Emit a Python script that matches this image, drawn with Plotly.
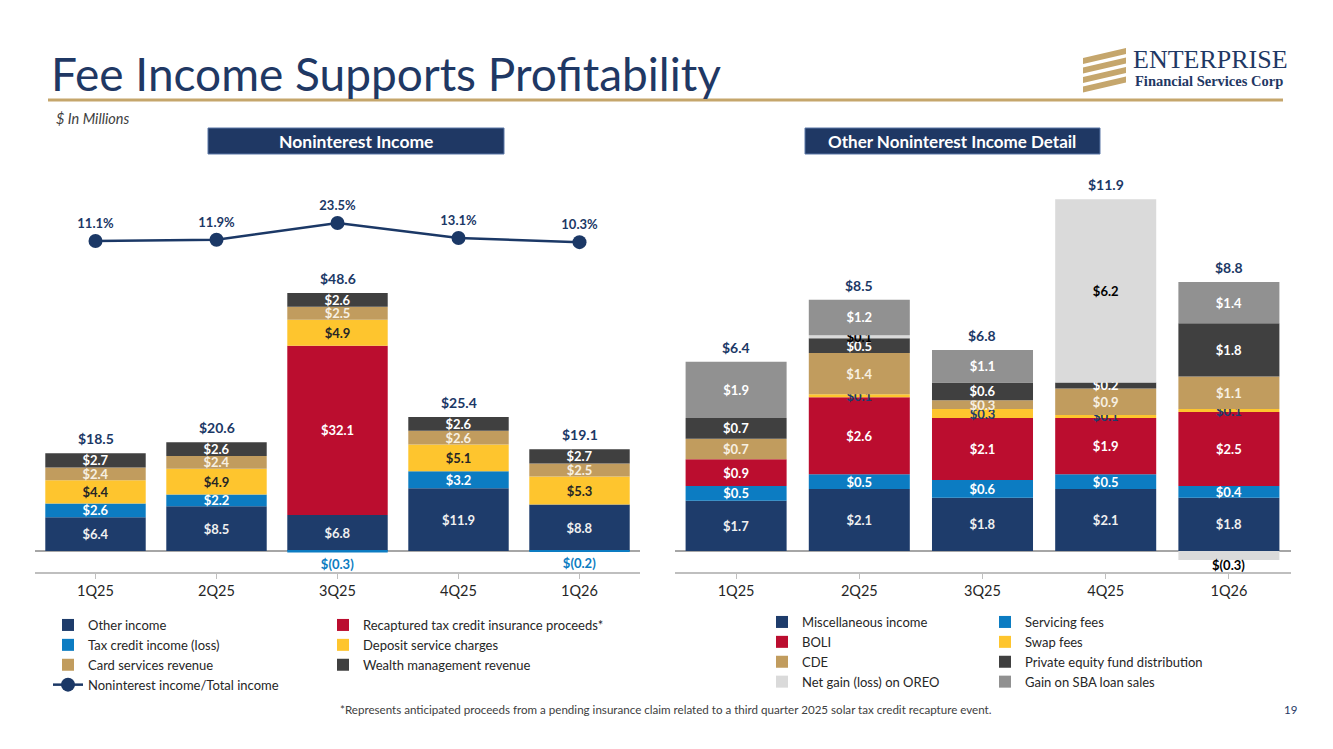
import plotly.graph_objects as go

W, H = 1333, 749
def X(p): return p / W
def Y(p): return 1 - p / H

quarters = ["1Q25", "2Q25", "3Q25", "4Q25", "1Q26"]

# ---- Left chart: Noninterest Income ----
other_income = [6.4, 8.5, 6.8, 11.9, 8.8]
tax_credit = [2.6, 2.2, -0.3, 3.2, -0.2]
recaptured = [0, 0, 32.1, 0, 0]
deposit = [4.4, 4.9, 4.9, 5.1, 5.3]
card = [2.4, 2.4, 2.5, 2.6, 2.5]
wealth = [2.7, 2.6, 2.6, 2.6, 2.7]
left_totals = [18.5, 20.6, 48.6, 25.4, 19.1]
nii_ratio = [11.1, 11.9, 23.5, 13.1, 10.3]

# ---- Right chart: Other Noninterest Income Detail ----
misc = [1.7, 2.1, 1.8, 2.1, 1.8]
servicing = [0.5, 0.5, 0.6, 0.5, 0.4]
boli = [0.9, 2.6, 2.1, 1.9, 2.5]
swap = [0, 0.1, 0.3, 0.1, 0.1]
cde = [0.7, 1.4, 0.3, 0.9, 1.1]
private_eq = [0.7, 0.5, 0.6, 0.2, 1.8]
oreo = [0, 0.1, 0, 6.2, -0.3]
sba = [1.9, 1.2, 1.1, 0, 1.4]
right_totals = [6.4, 8.5, 6.8, 11.9, 8.8]

NAVY = "#1e3c6b"
BLUE = "#0c7cc2"
RED = "#bb0d2f"
YELLOW = "#fec52e"
TAN = "#c19c5e"
DARK = "#404040"
LIGHT = "#dadada"
GRAY = "#919191"
FONT = "Lato"

left_series = [
    ("Other income", other_income, NAVY, "#f0f0f0", "legend"),
    ("Tax credit income (loss)", tax_credit, BLUE, "#ffffff", "legend"),
    ("Recaptured tax credit insurance proceeds*", recaptured, RED, "#ffffff", "legend2"),
    ("Deposit service charges", deposit, YELLOW, "#262626", "legend2"),
    ("Card services revenue", card, TAN, "#f7f0e2", "legend"),
    ("Wealth management revenue", wealth, DARK, "#ffffff", "legend2"),
]
right_series = [
    ("Miscellaneous income", misc, NAVY, "#f0f0f0", "legend3"),
    ("Servicing fees", servicing, BLUE, "#ffffff", "legend4"),
    ("BOLI", boli, RED, "#ffffff", "legend3"),
    ("Swap fees", swap, YELLOW, "#1e3c6b", "legend4"),
    ("CDE", cde, TAN, "#f7f0e2", "legend3"),
    ("Private equity fund distribution", private_eq, DARK, "#ffffff", "legend4"),
    ("Net gain (loss) on OREO", oreo, LIGHT, "#000000", "legend3"),
    ("Gain on SBA loan sales", sba, GRAY, "#ffffff", "legend4"),
]


def fmt(v):
    if v == 0:
        return ""
    return f"${v:.1f}" if v > 0 else f"$({-v:.1f})"


fig = go.Figure()
annotations = []


def add_bars(series, xa, ya, width, neg_color, neg_outside):
    for name, vals, color, tcolor, leg in series:
        texts = [fmt(v) if (v > 0 or neg_outside) else "" for v in vals]
        fig.add_trace(go.Bar(
            x=quarters, y=vals, name=name, xaxis=xa, yaxis=ya, width=width,
            marker=dict(color=color, line=dict(width=0)),
            text=texts,
            textposition=["outside" if v < 0 else "inside" for v in vals],
            textangle=0, insidetextanchor="middle", constraintext="none",
            insidetextfont=dict(family=FONT, size=13, color=tcolor, weight="bold"),
            outsidetextfont=dict(family=FONT, size=13, color=neg_color, weight="bold"),
            cliponaxis=False, legend=leg, hoverinfo="skip",
        ))
        if not neg_outside:
            for q, v in zip(quarters, vals):
                if v < 0:
                    annotations.append(dict(
                        x=q, y=v, xref=xa, yref=ya, text=fmt(v), showarrow=False,
                        yanchor="top", yshift=5,
                        font=dict(family=FONT, size=13, color=neg_color, weight="bold")))


add_bars(left_series, "x", "y", 0.83, BLUE, True)
add_bars(right_series, "x2", "y2", 0.82, "#000000", False)

fig.add_trace(go.Scatter(
    x=quarters, y=nii_ratio, name="Noninterest income/Total income",
    xaxis="x", yaxis="y3", mode="lines+markers+text",
    line=dict(color="#1b3866", width=2.5),
    marker=dict(color="#1b3866", size=14),
    text=[f"{r:.1f}%" for r in nii_ratio], textposition="top center",
    textfont=dict(family=FONT, size=13, color="#1b3866", weight="bold"),
    cliponaxis=False, legend="legend", hoverinfo="skip",
))

# Totals above stacks
for series, totals, xr, yr in [(left_series, left_totals, "x", "y"), (right_series, right_totals, "x2", "y2")]:
    for i, q in enumerate(quarters):
        top = sum(max(s[1][i], 0) for s in series)
        annotations.append(dict(
            x=q, y=top, xref=xr, yref=yr, text=f"${totals[i]:.1f}", showarrow=False,
            yanchor="bottom", yshift=4,
            font=dict(family=FONT, size=14, color="#1b3866", weight="bold"),
        ))

# Title and header texts
annotations += [
    dict(x=X(49), y=Y(73), xref="paper", yref="paper", xanchor="left", yanchor="middle",
         text="Fee Income Supports Profitability", showarrow=False,
         font=dict(family=FONT, size=46, color="#1f3864")),
    dict(x=X(54), y=Y(118), xref="paper", yref="paper", xanchor="left", yanchor="middle",
         text="<i>$ In Millions</i>", showarrow=False,
         font=dict(family=FONT, size=14.5, color="#404040")),
    dict(x=X(356), y=Y(141), xref="paper", yref="paper", xanchor="center", yanchor="middle",
         text="<b>Noninterest Income</b>", showarrow=False,
         font=dict(family=FONT, size=17.5, color="#ffffff")),
    dict(x=X(952), y=Y(141), xref="paper", yref="paper", xanchor="center", yanchor="middle",
         text="<b>Other Noninterest Income Detail</b>", showarrow=False,
         font=dict(family=FONT, size=17, color="#ffffff")),
    dict(x=X(338), y=Y(709), xref="paper", yref="paper", xanchor="left", yanchor="middle",
         text="*Represents anticipated proceeds from a pending insurance claim related to a third quarter 2025 solar tax credit recapture event.",
         showarrow=False, font=dict(family=FONT, size=11.6, color="#404040")),
    dict(x=X(1290), y=Y(709), xref="paper", yref="paper", xanchor="center", yanchor="middle",
         text="19", showarrow=False, font=dict(family=FONT, size=11.5, color="#1f3864")),
    dict(x=X(1131), y=Y(60), xref="paper", yref="paper", xanchor="left", yanchor="middle",
         text="ENTERPRISE", showarrow=False,
         font=dict(family="Liberation Serif", size=26, color="#1f3864")),
    dict(x=X(1133), y=Y(81), xref="paper", yref="paper", xanchor="left", yanchor="middle",
         text="Financial Services Corp", showarrow=False,
         font=dict(family="Liberation Serif", size=14.5, color="#1f3864", weight="bold")),
]

shapes = [
    dict(type="line", xref="paper", yref="paper", x0=X(48), x1=X(1283), y0=Y(100), y1=Y(100),
         line=dict(color="#c5a66c", width=3)),
    dict(type="rect", xref="paper", yref="paper", x0=X(208), x1=X(504), y0=Y(128), y1=Y(154),
         fillcolor="#1f3864", line=dict(color="#5a77a6", width=1)),
    dict(type="rect", xref="paper", yref="paper", x0=X(805), x1=X(1100), y0=Y(128), y1=Y(154),
         fillcolor="#1f3864", line=dict(color="#5a77a6", width=1)),
]
# Logo stripes
for i in range(4):
    yl = 58 + 9.5 * i
    path = (f"M {X(1083)},{Y(yl)} L {X(1126)},{Y(yl - 10)} L {X(1126)},{Y(yl - 4)} "
            f"L {X(1083)},{Y(yl + 6)} Z")
    shapes.append(dict(type="path", xref="paper", yref="paper", path=path,
                       fillcolor="#c5a66c", line=dict(width=0)))

axis_common = dict(showgrid=False, showline=True, linecolor="#bfbfbf", linewidth=1.5,
                   ticks="outside", ticklen=5, tickcolor="#bfbfbf",
                   tickfont=dict(family=FONT, size=14.5, color="#262626"), type="category",
                   range=[-0.5, 4.5], fixedrange=True)
yaxis_common = dict(showgrid=False, showticklabels=False, zeroline=True, zerolinecolor="#a6a6a6",
                    zerolinewidth=1.5, showline=False, ticks="", fixedrange=True)

dom_y = [Y(572), Y(190)]
leg_common = dict(bgcolor="rgba(0,0,0,0)", borderwidth=0, traceorder="normal",
                  font=dict(family=FONT, size=13, color="#262626"),
                  xanchor="left", yanchor="top", orientation="v", tracegroupgap=0)

fig.update_layout(
    width=W, height=H, margin=dict(l=0, r=0, t=0, b=0),
    paper_bgcolor="white", plot_bgcolor="white",
    barmode="relative", showlegend=True,
    xaxis=dict(domain=[X(35), X(640)], anchor="y", **axis_common),
    yaxis=dict(domain=dom_y, range=[-3.98, 68.4], anchor="x", **yaxis_common),
    yaxis3=dict(overlaying="y", range=[-216.86, 46.2], visible=False, fixedrange=True),
    xaxis2=dict(domain=[X(674.5), X(1290.5)], anchor="y2", **axis_common),
    yaxis2=dict(domain=dom_y, range=[-0.71, 12.21], anchor="x2", **yaxis_common),
    legend=dict(x=X(48), y=Y(610), **leg_common),
    legend2=dict(x=X(323), y=Y(610), **leg_common),
    legend3=dict(x=X(762), y=Y(607), **leg_common),
    legend4=dict(x=X(985), y=Y(607), **leg_common),
    annotations=annotations, shapes=shapes,
)

fig.write_html("out.html")
